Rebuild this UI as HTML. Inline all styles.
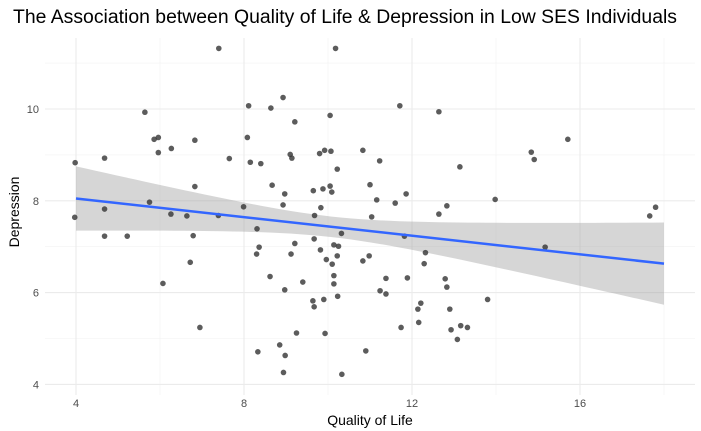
<!DOCTYPE html>
<html><head><meta charset="utf-8"><style>
body{margin:0;background:#fff;}
svg{display:block;font-family:"Liberation Sans",Arial,sans-serif;}
</style></head><body>
<svg id="chart" width="701" height="431" viewBox="0 0 701 431" xmlns="http://www.w3.org/2000/svg">
<text x="13" y="23" font-size="19" textLength="664" lengthAdjust="spacingAndGlyphs" fill="#000">The Association between Quality of Life &amp; Depression in Low SES Individuals</text>
<g id="grid"></g>
<g id="ribbon"></g>
<g id="points"></g>
<g id="fit"></g>
<g id="axes"></g>
<text x="370" y="425" font-size="14" text-anchor="middle" fill="#000">Quality of Life</text>
<text transform="translate(19,212) rotate(-90)" font-size="14" text-anchor="middle" fill="#000">Depression</text>
</svg>
<script>
const qualityOfLife = [7.40,3.98,4.68,5.64,5.86,5.96,5.96,6.27,6.83,6.83,5.75,4.68,3.97,6.26,6.64,7.39,4.68,5.22,6.79,6.72,6.07,6.95,7.65,8.11,8.08,8.15,8.40,8.64,8.93,9.21,9.10,9.14,8.67,8.97,8.93,7.99,8.31,8.36,8.30,9.21,9.12,8.62,8.97,9.25,8.33,8.85,8.98,8.94,10.18,10.05,9.80,9.92,10.07,10.22,9.65,9.88,10.05,10.09,9.83,9.68,10.32,9.67,9.82,10.14,10.25,10.22,9.96,10.10,9.40,10.14,10.14,10.23,9.64,9.67,9.90,9.93,10.33,10.83,11.23,11.00,11.16,11.04,11.60,11.86,11.71,12.64,13.14,12.83,12.64,10.83,10.98,11.82,12.32,12.29,11.38,11.89,12.79,12.83,11.24,11.38,12.21,12.14,12.16,12.90,11.74,12.93,13.16,13.32,13.08,10.90,15.71,14.84,14.91,13.98,15.17,13.80,17.66,17.80];
const depression = [11.32,8.83,8.93,9.93,9.34,9.38,9.05,9.14,9.32,8.31,7.97,7.82,7.64,7.71,7.67,7.68,7.23,7.23,7.24,6.66,6.20,5.24,8.92,10.07,9.38,8.84,8.81,10.02,10.25,9.72,9.01,8.93,8.34,8.15,7.91,7.87,7.39,6.99,6.84,7.07,6.84,6.35,6.06,5.12,4.71,4.86,4.63,4.26,11.32,9.86,9.03,9.10,9.08,8.69,8.22,8.26,8.32,8.19,7.85,7.68,7.29,7.17,6.93,7.04,7.01,6.80,6.72,6.62,6.23,6.37,6.19,5.92,5.82,5.69,5.85,5.11,4.22,9.10,8.87,8.35,8.02,7.65,7.95,8.15,10.07,9.94,8.74,7.89,7.71,6.69,6.80,7.23,6.87,6.63,6.31,6.32,6.30,6.12,6.04,5.97,5.77,5.64,5.35,5.64,5.24,5.19,5.28,5.24,4.98,4.73,9.34,9.06,8.90,8.03,6.99,5.85,7.67,7.86];
const xTicks = [4,8,12,16];
const yTicks = [4,6,8,10];
const fitIntercept = 8.456, fitSlope = -0.1014;
const fitXMin = 4, fitXMax = 18;
const seBase = 0.05, seCurv = 0.01195, seCenter = 10.07;

const NS='http://www.w3.org/2000/svg';
const L=45,R=695,T=38,B=395;
const sx=v=>76+(v-4)*42;
const sy=v=>109-(v-10)*45.9;
function mk(tag,attrs,parent){const e=document.createElementNS(NS,tag);for(const k in attrs)e.setAttribute(k,attrs[k]);parent.appendChild(e);return e;}
const grid=document.getElementById('grid');
for(let i=0;i<xTicks.length;i++){const v=xTicks[i]+2;if(sx(v)<R){const g=mk('line',{x1:sx(v),x2:sx(v),y1:T,y2:B,stroke:'#f2f2f2','stroke-width':0.6},grid);

}}
for(let i=0;i<yTicks.length;i++){const v=yTicks[i]+1;if(sy(v)>T){const g=mk('line',{x1:L,x2:R,y1:sy(v),y2:sy(v),stroke:'#f2f2f2','stroke-width':0.6},grid);

}}
const axes=document.getElementById('axes');
xTicks.forEach(v=>{const g=mk('line',{x1:sx(v),x2:sx(v),y1:T,y2:B,stroke:'#ebebeb','stroke-width':1.1},grid);


const t=mk('text',{x:sx(v),y:407,'font-size':11,'text-anchor':'middle',fill:'#4d4d4d'},axes);t.textContent=v;

});
yTicks.forEach(v=>{const g=mk('line',{x1:L,x2:R,y1:sy(v),y2:sy(v),stroke:'#ebebeb','stroke-width':1.1},grid);


const t=mk('text',{x:39,y:sy(v)+4,'font-size':11,'text-anchor':'end',fill:'#4d4d4d'},axes);t.textContent=v;

});
const xmin=fitXMin, xmax=fitXMax;
const fy=x=>fitIntercept+fitSlope*x, hw=x=>Math.sqrt(seBase+seCurv*(x-seCenter)**2);
let up=[],lo=[];
for(let i=0;i<=60;i++){const x=xmin+(xmax-xmin)*i/60;up.push(sx(x)+','+sy(fy(x)+hw(x)));lo.unshift(sx(x)+','+sy(fy(x)-hw(x)));}
const rib=mk('polygon',{points:up.concat(lo).join(' '),fill:'#999','fill-opacity':0.4},document.getElementById('ribbon'));


const pts=document.getElementById('points');
qualityOfLife.forEach((x,i)=>{const c=mk('circle',{cx:sx(x),cy:sy(depression[i]),r:2.8,fill:'#333','fill-opacity':0.8},pts);

});
const ln=mk('line',{x1:sx(xmin),y1:sy(fy(xmin)),x2:sx(xmax),y2:sy(fy(xmax)),stroke:'#3366ff','stroke-width':2.5},document.getElementById('fit'));


</script>
</body></html>
